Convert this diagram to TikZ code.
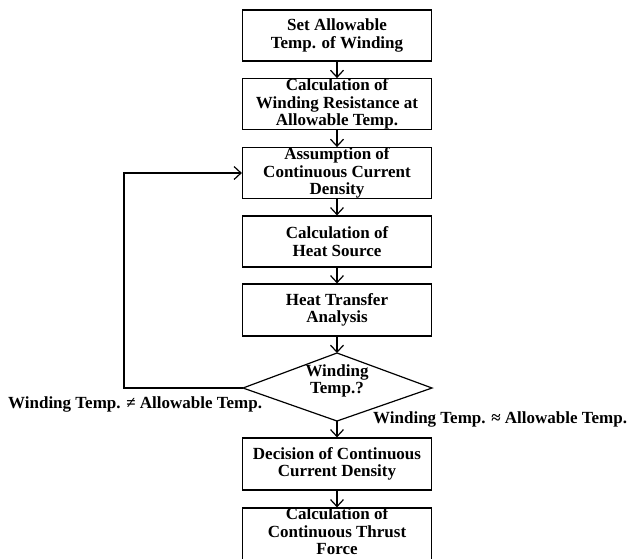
\documentclass[tikz,border=0pt]{standalone}
\usepackage{fontspec}
\setmainfont{Liberation Serif}
\usetikzlibrary{arrows.meta}
\begin{document}
\begin{tikzpicture}[x=1pt,y=-1pt,
  every node/.style={font=\fontsize{17}{17.5}\selectfont\bfseries},
  stepbox/.style={draw, line width=1.2pt, minimum width=189pt, inner sep=0pt, align=center, anchor=center},
  arr/.style={line width=1.2pt, -{Straight Barb[length=7pt,width=13pt,line width=1.2pt]}},
  lbl/.style={inner sep=0pt, anchor=west}]
\useasboundingbox (0,0) rectangle (629,558);
\node[stepbox, minimum height=51pt] (b1) at (337,35.5) {Set Allowable\\Temp. of Winding};
\node[stepbox, minimum height=50pt] (b2) at (337,104) {Calculation of\\Winding Resistance at\\Allowable Temp.};
\node[stepbox, minimum height=50pt] (b3) at (337,173) {Assumption of\\Continuous Current\\Density};
\node[stepbox, minimum height=51pt] (b4) at (337,241.5) {Calculation of\\Heat Source};
\node[stepbox, minimum height=52pt] (b5) at (337,310) {Heat Transfer\\Analysis};
\coordinate (dt) at (337,353);
\coordinate (dl) at (243,388);
\coordinate (dr) at (432,388);
\coordinate (db) at (337,421);
\draw[line width=1.2pt] (dt) -- (dr) -- (db) -- (dl) -- cycle;
\node[inner sep=0pt, align=center] (dec) at (337,381) {Winding\\Temp.?};
\node[stepbox, minimum height=52pt] (b6) at (337,464) {Decision of Continuous\\Current Density};
\node[stepbox, minimum height=60pt] (b7) at (337,538) {};
\node[inner sep=0pt, align=center] (b7t) at (337,531.5) {Calculation of\\Continuous Thrust\\Force};
\draw[arr] (b1) -- (b2);
\draw[arr] (b2) -- (b3);
\draw[arr] (b3) -- (b4);
\draw[arr] (b4) -- (b5);
\draw[arr] (b5) -- (dt);
\draw[arr] (db) -- (b6);
\draw[arr] (b6) -- (b7);
\coordinate (lc) at (124,388);
\draw[arr] (dl) -- (lc) |- (b3.west);
\node[lbl] (ne) at (8,404) {Winding Temp. ≠ Allowable Temp.};
\node[lbl] (ap) at (373,419) {Winding Temp. ≈ Allowable Temp.};
\end{tikzpicture}
\end{document}
